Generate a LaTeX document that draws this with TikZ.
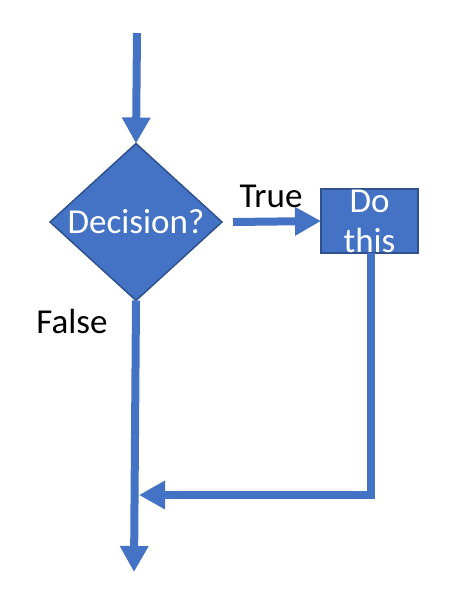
\documentclass[tikz,border=0pt]{standalone}
\usepackage{fontspec}
\setmainfont{Carlito}
\usetikzlibrary{arrows.meta,positioning,shapes.geometric}
\definecolor{boxblue}{HTML}{4472C4}
\definecolor{edgeblue}{HTML}{2F528F}

\begin{document}
\begin{tikzpicture}[
  x=1pt, y=-1pt,
  big/.style={font=\fontsize{35}{40}\selectfont},
  decide/.style={diamond, draw=edgeblue, line width=1.5pt, fill=boxblue, minimum width=172pt, minimum height=157pt, inner sep=0pt, outer sep=0pt},
  action/.style={rectangle, draw=edgeblue, line width=1.5pt, fill=boxblue, minimum width=97pt, minimum height=64pt, inner sep=0pt, outer sep=0pt},
  flow/.style={draw=boxblue, line width=8pt, -{Triangle[length=26pt, width=27pt]}},
  every label/.style={big, text=white, align=center}
]
\useasboundingbox (0,0) rectangle (462,599);

\node[decide, label=center:{Decision?}] (dec) at (136,222) {};
\node[action, label=center:{Do\\this}] (do) at (369.5,221) {};

\node[big] (true) at (271,196) {True};
\node[big] (false) at (72,321) {False};

\coordinate (start) at (137,33);
\coordinate (finish) at (134,572);
\coordinate (join) at (139,495);

\draw[flow] (start) -- (dec.north);
\draw[flow] ([xshift=11pt]dec.east) -- (do.west);
\draw[flow] (dec.south) -- (finish);
\draw[flow] ([xshift=1.5pt]do.south) |- (join);
\end{tikzpicture}
\end{document}
